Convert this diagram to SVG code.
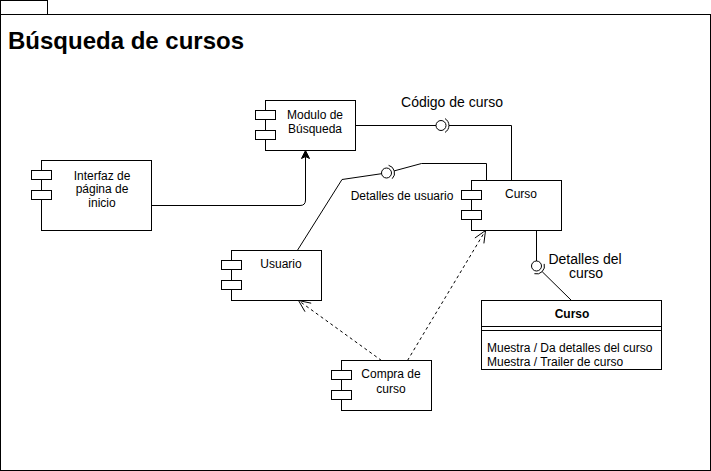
<svg xmlns="http://www.w3.org/2000/svg" width="711" height="471" viewBox="0 0 711 471">
<style>
.box{fill:#fff;stroke:#000;stroke-width:1}
.ln{fill:none;stroke:#000;stroke-width:1}
.dash{fill:none;stroke:#000;stroke-width:1;stroke-dasharray:3 3}
text{font-family:"Liberation Sans",Arial,Helvetica,sans-serif;fill:#000}
.t12{font-size:12px;text-anchor:middle}
.t14{font-size:14px;text-anchor:middle}
.attr{font-size:12px}
</style>
<rect width="711" height="471" fill="#fff"/>
<g id="frame">
<rect class="box" x="0.5" y="0.5" width="47" height="14"/>
<rect class="box" x="0.5" y="14.5" width="710" height="456"/>
<text x="8" y="49" style="font-size:24px;font-weight:bold">Búsqueda de cursos</text>
</g>
<g id="connectors">
<path class="ln" d="M356,125.5 H436"/>
<circle class="ln" cx="441" cy="125.5" r="5"/>
<path class="ln" d="M445,118.6 A8,8 0 0 1 445,132.4"/>
<path class="ln" d="M449,125.5 H511.5 V180.5"/>
<path class="ln" d="M297,251 L342,179.5 L381.6,173.7"/>
<circle class="ln" cx="386.5" cy="173" r="5"/>
<path class="ln" d="M388.6,165.3 A8,8 0 0 1 392.2,178.7"/>
<path class="ln" d="M394.2,170.9 L421.5,163.5 H486.5 V180.5"/>
<path class="ln" d="M536.5,230.5 V261"/>
<circle class="ln" cx="536.5" cy="266" r="5"/>
<path class="ln" d="M544.2,263.9 A8,8 0 0 1 534.4,273.7"/>
<path class="ln" d="M542.2,271.7 L571.5,300.5"/>
<path class="ln" d="M152,205.5 H300 Q305.5,205.5 305.5,200 V157"/>
<polygon points="305.5,150.5 301.5,158.5 305.5,156.5 309.5,158.5" fill="#000" stroke="#000" stroke-width="1"/>
<path class="dash" d="M381.5,360.5 L298.5,300.5"/>
<path class="ln" d="M311.2,303.2 L298.5,300.5 L305,311.7"/>
<path class="dash" d="M407.5,360.5 L485.5,230.5"/>
<path class="ln" d="M483.9,243.4 L485.5,230.5 L474.9,238"/>
<text class="t14" x="452" y="107">Código de curso</text>
<text class="t12" x="402" y="199.5">Detalles de usuario</text>
<text class="t14" x="585" y="263.5">Detalles del</text>
<text class="t14" x="586" y="278">curso</text>
</g>
<g id="modulo">
<rect class="box" x="265.5" y="100.5" width="90" height="50"/>
<rect class="box" x="255.5" y="110.5" width="20" height="9"/>
<rect class="box" x="255.5" y="130.5" width="20" height="9"/>
<text class="t12" x="315" y="118.5">Modulo de</text>
<text class="t12" x="315" y="132.5">Búsqueda</text>
</g>
<g id="interfaz">
<rect class="box" x="41.5" y="160.5" width="110" height="70"/>
<rect class="box" x="31.5" y="170.5" width="20" height="9"/>
<rect class="box" x="31.5" y="190.5" width="20" height="9"/>
<text class="t12" x="102" y="179.5">Interfaz de</text>
<text class="t12" x="102" y="193">página de</text>
<text class="t12" x="102" y="206.5">inicio</text>
</g>
<g id="curso">
<rect class="box" x="471.5" y="180.5" width="90" height="50"/>
<rect class="box" x="461.5" y="190.5" width="20" height="9"/>
<rect class="box" x="461.5" y="210.5" width="20" height="9"/>
<text class="t12" x="521" y="197.5">Curso</text>
</g>
<g id="usuario">
<rect class="box" x="231.5" y="250.5" width="90" height="50"/>
<rect class="box" x="221.5" y="260.5" width="20" height="9"/>
<rect class="box" x="221.5" y="280.5" width="20" height="9"/>
<text class="t12" x="281" y="268">Usuario</text>
</g>
<g id="compra">
<rect class="box" x="341.5" y="360.5" width="90" height="50"/>
<rect class="box" x="331.5" y="370.5" width="20" height="9"/>
<rect class="box" x="331.5" y="390.5" width="20" height="9"/>
<text class="t12" x="391" y="378">Compra de</text>
<text class="t12" x="391" y="392.5">curso</text>
</g>
<g id="curso-class">
<rect class="box" x="481.5" y="300.5" width="180" height="69"/>
<path class="ln" d="M481.5,326.5 H661.5 M481.5,330.5 H661.5"/>
<text class="t12" x="572" y="318" style="font-weight:bold">Curso</text>
<text class="attr" x="487" y="352">Muestra / Da detalles del curso</text>
<text class="attr" x="487" y="366">Muestra / Trailer de curso</text>
</g>
</svg>
